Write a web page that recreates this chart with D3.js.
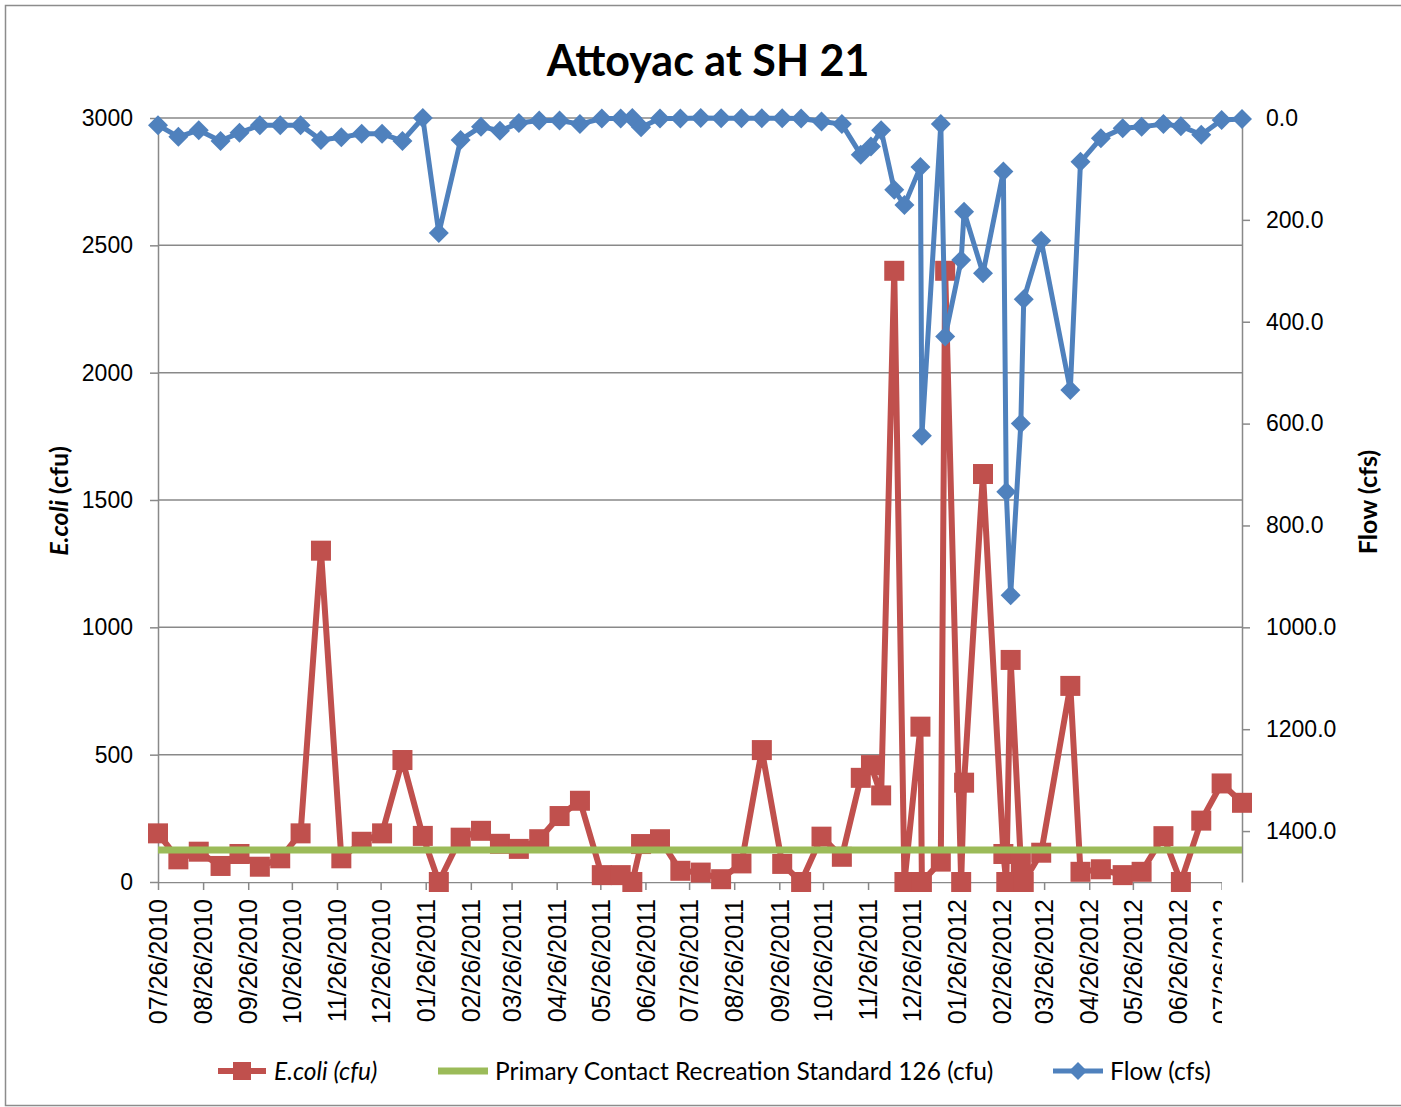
<!DOCTYPE html>
<html>
<head>
<meta charset="utf-8">
<script src="https://cdn.jsdelivr.net/npm/d3@7"></script>
<style>
  html, body { margin: 0; padding: 0; background: #fff; }
  svg { display: block; }
</style>
</head>
<body>
<svg id="chart" width="1401" height="1107"></svg>
<script>
// 채수 날짜
const sampleDates = [
  "2010-07-26", "2010-08-09", "2010-08-23", "2010-09-07", "2010-09-20", "2010-10-04",
  "2010-10-18", "2010-11-01", "2010-11-15", "2010-11-29", "2010-12-13", "2010-12-27",
  "2011-01-10", "2011-01-24", "2011-02-04", "2011-02-19", "2011-03-05", "2011-03-18",
  "2011-03-31", "2011-04-14", "2011-04-28", "2011-05-12", "2011-05-27", "2011-06-09",
  "2011-06-17", "2011-06-23", "2011-07-06", "2011-07-20", "2011-08-03", "2011-08-17",
  "2011-08-31", "2011-09-14", "2011-09-28", "2011-10-11", "2011-10-25", "2011-11-08",
  "2011-11-21", "2011-11-28", "2011-12-05", "2011-12-14", "2011-12-21", "2012-01-01",
  "2012-01-02", "2012-01-15", "2012-01-18", "2012-01-29", "2012-01-31", "2012-02-13",
  "2012-02-27", "2012-02-29", "2012-03-03", "2012-03-10", "2012-03-12", "2012-03-24",
  "2012-04-13", "2012-04-20", "2012-05-04", "2012-05-19", "2012-06-01", "2012-06-16",
  "2012-06-28", "2012-07-12", "2012-07-26", "2012-08-09",
];
// E.coli (cfu) — 왼쪽 축
const ecoliValues = [
  191, 89, 119, 63, 110, 60, 93, 191, 1301, 93, 158, 191,
  479, 181, 0, 174, 201, 150, 130, 168, 259, 319, 27, 27,
  0, 149, 168, 44, 37, 11, 73, 518, 71, 0, 178, 99,
  409, 459, 340, 2400, 0, 610, 0, 80, 2400, 0, 390, 1602,
  110, 0, 872, 75, 0, 115, 770, 40, 50, 27, 40, 180,
  0, 241, 387, 311,
];
// Flow (cfs) — 오른쪽 축 (뒤집힘)
const flowValues = [
  14, 37, 24, 45, 29, 14, 14, 14, 43, 38, 31, 31,
  45, 0, 226, 43, 17, 25, 10, 5, 5, 12, 1, 1,
  0, 18, 1, 1, 0, 0.5, 0.5, 0.5, 0.5, 1, 7, 12,
  72, 56, 24, 141, 171, 96, 624, 12, 429, 279, 184, 305,
  105, 734, 937, 600, 356, 241, 534, 86, 40, 20, 17, 12,
  16, 33, 4, 2,
];
const standardValue = 126; // Primary Contact Recreation Standard
const leftTicks = [0, 500, 1000, 1500, 2000, 2500, 3000];
const rightTicks = [0, 200, 400, 600, 800, 1000, 1200, 1400];
const monthTicks = [
  "07/26/2010", "08/26/2010", "09/26/2010", "10/26/2010", "11/26/2010", "12/26/2010",
  "01/26/2011", "02/26/2011", "03/26/2011", "04/26/2011", "05/26/2011", "06/26/2011",
  "07/26/2011", "08/26/2011", "09/26/2011", "10/26/2011", "11/26/2011", "12/26/2011",
  "01/26/2012", "02/26/2012", "03/26/2012", "04/26/2012", "05/26/2012", "06/26/2012",
  "07/26/2012",
];
const legendLabels = ["E.coli (cfu)", "Primary Contact Recreation Standard 126 (cfu)", "Flow (cfs)"];

(function () {
  const RED = "#C0504D";
  const GREEN = "#9BBB59";
  const BLUE = "#4F81BD";
  const GRID = "#898989";
  const TICK_FONT = "'Liberation Sans', Arial, sans-serif";
  const LABEL_FONT = "Lato, 'Open Sans', sans-serif";

  const parseDate = d3.timeParse("%Y-%m-%d");
  const parseTick = d3.timeParse("%m/%d/%Y");
  const dates = sampleDates.map(parseDate);

  const plot = { left: 158, right: 1242, top: 118, bottom: 882 }; // 플롯 영역

  const svg = d3.select("#chart");

  // 바깥 테두리
  svg.append("rect")
    .attr("x", 5.5).attr("y", 5.5)
    .attr("width", 1400).attr("height", 1100)
    .attr("fill", "#fff")
    .attr("stroke", "#8c8c8c")
    .attr("stroke-width", 1.5);

  const x = d3.scaleTime().domain(d3.extent(dates)).range([plot.left, plot.right]);
  const yLeft = d3.scaleLinear().domain([0, 3000]).range([plot.bottom, plot.top]);
  const yRight = d3.scaleLinear().domain([0, 1500]).range([plot.top, plot.bottom]); // 0이 위쪽

  // 가로 격자선
  svg.append("g")
    .selectAll("line")
    .data(leftTicks.filter((t) => t > 0))
    .join("line")
    .attr("x1", plot.left).attr("x2", plot.right)
    .attr("y1", (d) => yLeft(d)).attr("y2", (d) => yLeft(d))
    .attr("stroke", GRID)
    .attr("stroke-width", 1.5);

  // 축 스타일 공통 처리
  function styleAxis(g, fontSize) {
    g.selectAll(".domain").attr("stroke", GRID).attr("stroke-width", 1.5);
    g.selectAll(".tick line").attr("stroke", GRID).attr("stroke-width", 1.5);
    g.selectAll("text")
      .attr("fill", "#000")
      .style("font-family", TICK_FONT)
      .style("font-size", fontSize + "px");
  }

  // 왼쪽 축
  svg.append("g")
    .attr("transform", `translate(${plot.left},0)`)
    .call(d3.axisLeft(yLeft).tickValues(leftTicks).tickSize(8).tickSizeOuter(0).tickPadding(17)
      .tickFormat(d3.format("d")))
    .call((g) => styleAxis(g, 23));

  // 오른쪽 축
  svg.append("g")
    .attr("transform", `translate(${plot.right},0)`)
    .call(d3.axisRight(yRight).tickValues(rightTicks).tickSize(8).tickSizeOuter(0).tickPadding(16)
      .tickFormat(d3.format(".1f")))
    .call((g) => styleAxis(g, 23));

  // 아래쪽 날짜 축 (라벨 세로 회전), 마지막 라벨은 원본처럼 잘림
  svg.append("clipPath").attr("id", "xclip")
    .append("rect").attr("x", 0).attr("y", 0).attr("width", 1222).attr("height", 1107);

  const xAxis = svg.append("g")
    .attr("transform", `translate(0,${plot.bottom})`)
    .attr("clip-path", "url(#xclip)")
    .call(d3.axisBottom(x).tickValues(monthTicks.map(parseTick)).tickSize(8).tickSizeOuter(0)
      .tickFormat(d3.timeFormat("%m/%d/%Y")))
    .call((g) => styleAxis(g, 25));
  xAxis.selectAll(".tick text")
    .attr("transform", "rotate(-90)")
    .attr("x", -17).attr("y", 0).attr("dy", "0.35em")
    .attr("text-anchor", "end");

  // E.coli 선 + 사각 마커
  const ecoliLine = d3.line().x((d, i) => x(dates[i])).y((d) => yLeft(d));
  svg.append("path")
    .datum(ecoliValues)
    .attr("d", ecoliLine)
    .attr("fill", "none")
    .attr("stroke", RED)
    .attr("stroke-width", 6)
    .attr("stroke-linejoin", "round");
  svg.append("g")
    .selectAll("rect")
    .data(ecoliValues)
    .join("rect")
    .attr("x", (d, i) => x(dates[i]) - 10)
    .attr("y", (d) => yLeft(d) - 10)
    .attr("width", 20).attr("height", 20)
    .attr("fill", RED);

  // 기준선 126
  svg.append("line")
    .attr("x1", x(dates[0])).attr("x2", x(dates[dates.length - 1]))
    .attr("y1", yLeft(standardValue)).attr("y2", yLeft(standardValue))
    .attr("stroke", GREEN)
    .attr("stroke-width", 7);

  // Flow 선 + 마름모 마커
  const diamond = "M0,-10L10,0L0,10L-10,0Z";
  const flowLine = d3.line().x((d, i) => x(dates[i])).y((d) => yRight(d));
  svg.append("path")
    .datum(flowValues)
    .attr("d", flowLine)
    .attr("fill", "none")
    .attr("stroke", BLUE)
    .attr("stroke-width", 5)
    .attr("stroke-linejoin", "round");
  svg.append("g")
    .selectAll("path")
    .data(flowValues)
    .join("path")
    .attr("d", diamond)
    .attr("transform", (d, i) => `translate(${x(dates[i])},${yRight(d)})`)
    .attr("fill", BLUE);

  // 제목
  svg.append("text")
    .attr("x", 708).attr("y", 76)
    .attr("text-anchor", "middle")
    .style("font-family", LABEL_FONT)
    .style("font-weight", "bold")
    .style("font-size", "43px")
    .text("Attoyac at SH 21");

  // 왼쪽 축 제목 (E.coli 이탤릭)
  const yTitle = svg.append("text")
    .attr("transform", "translate(68,501) rotate(-90)")
    .attr("text-anchor", "middle")
    .style("font-family", LABEL_FONT)
    .style("font-weight", "bold")
    .style("font-size", "25px");
  yTitle.append("tspan").style("font-style", "italic").text("E.coli");
  yTitle.append("tspan").text(" (cfu)");

  // 오른쪽 축 제목
  svg.append("text")
    .attr("transform", "translate(1377,502) rotate(-90)")
    .attr("text-anchor", "middle")
    .style("font-family", LABEL_FONT)
    .style("font-weight", "bold")
    .style("font-size", "25px")
    .text("Flow (cfs)");

  // 범례
  const legendY = 1071;
  const legend = svg.append("g").style("font-family", LABEL_FONT).style("font-size", "24.5px");

  legend.append("line").attr("x1", 218).attr("x2", 266).attr("y1", legendY).attr("y2", legendY)
    .attr("stroke", RED).attr("stroke-width", 6);
  legend.append("rect").attr("x", 233).attr("y", legendY - 9).attr("width", 18).attr("height", 18)
    .attr("fill", RED);
  legend.append("text").attr("x", 274).attr("y", legendY).attr("dy", "0.35em")
    .style("font-style", "italic").text(legendLabels[0]);

  legend.append("line").attr("x1", 438).attr("x2", 488).attr("y1", legendY).attr("y2", legendY)
    .attr("stroke", GREEN).attr("stroke-width", 7);
  legend.append("text").attr("x", 495).attr("y", legendY).attr("dy", "0.35em").text(legendLabels[1]);

  legend.append("line").attr("x1", 1053).attr("x2", 1103).attr("y1", legendY).attr("y2", legendY)
    .attr("stroke", BLUE).attr("stroke-width", 5);
  legend.append("path").attr("d", "M0,-9L9,0L0,9L-9,0Z")
    .attr("transform", `translate(1078,${legendY})`).attr("fill", BLUE);
  legend.append("text").attr("x", 1110).attr("y", legendY).attr("dy", "0.35em").text(legendLabels[2]);
})();
</script>
</body>
</html>
